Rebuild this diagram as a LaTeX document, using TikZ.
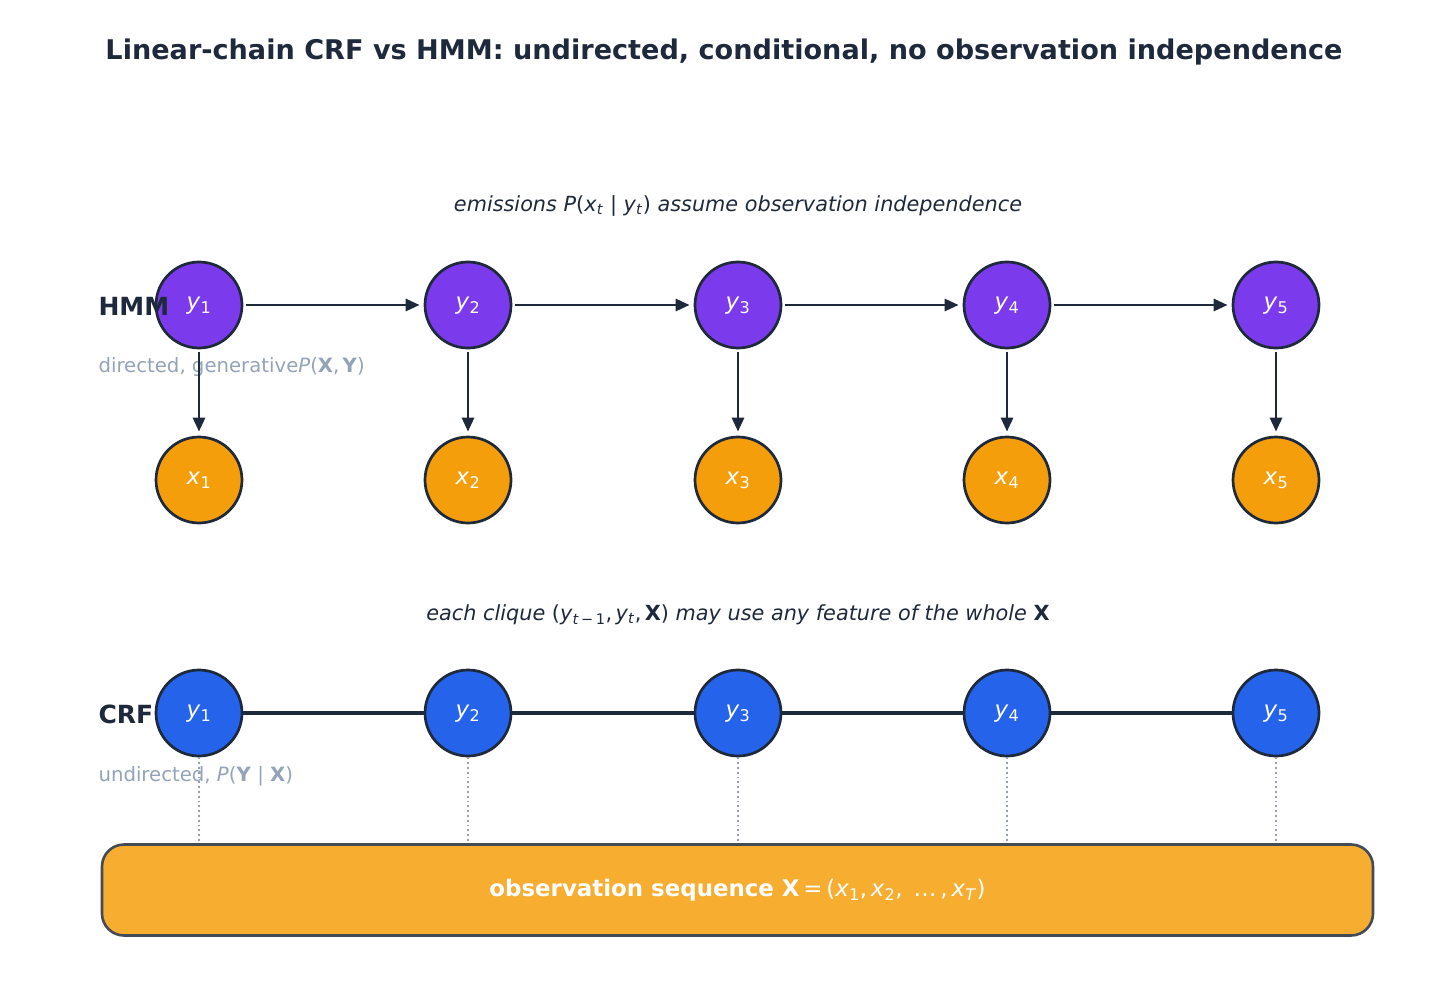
\documentclass[tikz,border=0pt]{standalone}
\usepackage{fontspec}
\setmainfont{DejaVu Sans}
\usetikzlibrary{arrows.meta}
\definecolor{ink}{HTML}{1E293B}
\definecolor{hmmpurple}{HTML}{7C3AED}
\definecolor{crfblue}{HTML}{2563EB}
\definecolor{obsamber}{HTML}{F59E0B}
\definecolor{boxfill}{HTML}{F6AD30}
\definecolor{boxedge}{HTML}{434B57}
\definecolor{mutedgray}{HTML}{94A3B8}
\definecolor{dotgray}{HTML}{959DBA}
\newcommand{\mv}[1]{\textit{#1}}
\newcommand{\sbx}[1]{\textsubscript{#1}}
\begin{document}
\begin{tikzpicture}[x=1pt,y=-1pt,
  statenode/.style={circle,draw=ink,line width=2.7pt,minimum size=86pt,inner sep=0pt,
    text=white,font=\fontsize{23}{27}\selectfont,text height=14pt,text depth=5pt},
  hmmstate/.style={statenode,fill=hmmpurple},
  obsnode/.style={statenode,fill=obsamber},
  crfstate/.style={statenode,fill=crfblue},
  arr/.style={draw=ink,line width=2.9pt,-{Triangle[length=14pt,width=12pt]},shorten <=3pt,shorten >=4pt},
  undir/.style={draw=ink,line width=4pt},
  dotline/.style={draw=dotgray,line width=1.8pt,dash pattern=on 1.8pt off 3pt},
  rowlabel/.style={anchor=west,text=ink,font=\fontsize{25}{30}\selectfont\bfseries},
  sublabel/.style={anchor=west,text=mutedgray,font=\fontsize{19.7}{24}\selectfont},
  note/.style={text=ink,font=\fontsize{20.8}{25}\selectfont\itshape},
  obsbox/.style={draw=boxedge,fill=boxfill,line width=2.6pt,rounded corners=22pt,
    minimum width=1271pt,minimum height=91pt,text=white,font=\fontsize{22.9}{27}\selectfont}
]
\useasboundingbox (0,0) rectangle (1448,1000);
\node[text=ink,font=\fontsize{27.1}{32}\selectfont\bfseries] (title) at (724,52)
  {Linear-chain CRF vs HMM: undirected, conditional, no observation independence};

\node[note] (hmmnote) at (738,206) {emissions \upshape\mv{P}(\mv{x}\sbx{\mv{t}} | \mv{y}\sbx{\mv{t}})\itshape{} assume observation independence};
\node[note] (crfnote) at (738,615) {each clique \upshape(\mv{y}\sbx{\mv{t}\,−\,1},\,\mv{y}\sbx{\mv{t}},\,\textbf{X})\itshape{} may use any feature of the whole \upshape\textbf{X}};

\foreach \i/\x in {1/199,2/468,3/738,4/1007,5/1276} {
  \node[hmmstate] (h\i) at (\x,305) {\mv{y}\sbx{\i}};
  \node[obsnode] (x\i) at (\x,480) {\mv{x}\sbx{\i}};
  \node[crfstate] (c\i) at (\x,713) {\mv{y}\sbx{\i}};
}

\node[obsbox] (obs) at (737.5,890)
  {\textbf{observation sequence X}\,=\,(\mv{x}\sbx{1},\,\mv{x}\sbx{2},\, …\,,\,\mv{x}\sbx{\mv{T}})};

\node[rowlabel] (hmmlab) at (95,306) {HMM};
\node[sublabel] (hmmsub) at (95,367) {directed, generative\mv{P}(\textbf{X},\,\textbf{Y})};
\node[rowlabel] (crflab) at (95,714) {CRF};
\node[sublabel] (crfsub) at (95,776) {undirected, \mv{P}(\textbf{Y} | \textbf{X})};

\foreach \i/\j in {1/2,2/3,3/4,4/5} {
  \draw[arr] (h\i) -- (h\j);
  \draw[undir] (c\i) -- (c\j);
}
\foreach \i in {1,...,5} {
  \draw[arr] (h\i) -- (x\i);
  \draw[dotline] (c\i.south) -- (c\i.south |- obs.north);
}
\end{tikzpicture}
\end{document}
